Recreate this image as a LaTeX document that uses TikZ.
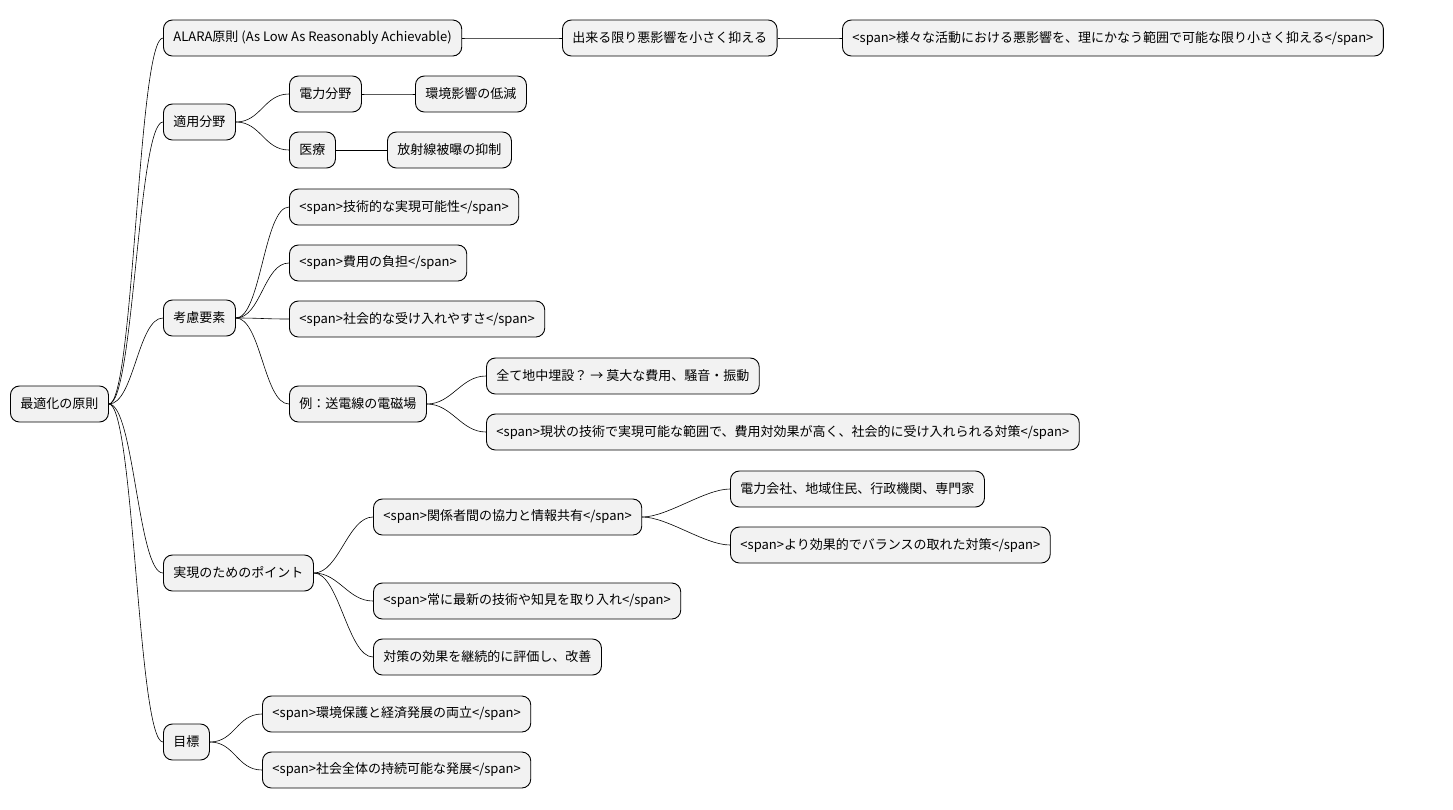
\documentclass[tikz,border=0pt]{standalone}
\usepackage{fontspec}
\setmainfont{Noto Sans CJK JP}
\begin{document}
\begin{tikzpicture}[x=1pt,y=-1pt,
  box/.style={draw,fill=gray!10,rounded corners=9pt,minimum height=36pt,inner xsep=10pt,anchor=west,font=\fontsize{13}{15}\selectfont,line width=0.9pt},
  link/.style={line width=0.6pt}]
\useasboundingbox (0,0) rectangle (1453,809);
\node[box] (r) at (10,404) {最適化の原則};
\node[box] (a) at (163,38) {ALARA原則 (As Low As Reasonably Achievable)};
\node[box] (a1) at (562,38) {出来る限り悪影響を小さく抑える};
\node[box] (a2) at (842,38) {<span>様々な活動における悪影響を、理にかなう範囲で可能な限り小さく抑える</span>};
\node[box] (b) at (163,122) {適用分野};
\node[box] (b1) at (289,94) {電力分野};
\node[box] (b11) at (415,94) {環境影響の低減};
\node[box] (b2) at (289,150) {医療};
\node[box] (b21) at (387,150) {放射線被曝の抑制};
\node[box] (c) at (163,318) {考慮要素};
\node[box] (c1) at (289,207) {<span>技術的な実現可能性</span>};
\node[box] (c2) at (289,263) {<span>費用の負担</span>};
\node[box] (c3) at (289,319) {<span>社会的な受け入れやすさ</span>};
\node[box] (c4) at (289,404) {例：送電線の電磁場};
\node[box] (c41) at (486,376) {全て地中埋設？ → 莫大な費用、騒音・振動};
\node[box] (c42) at (486,432) {<span>現状の技術で実現可能な範囲で、費用対効果が高く、社会的に受け入れられる対策</span>};
\node[box] (d) at (163,573) {実現のためのポイント};
\node[box] (d1) at (373,517) {<span>関係者間の協力と情報共有</span>};
\node[box] (d11) at (730,489) {電力会社、地域住民、行政機関、専門家};
\node[box] (d12) at (730,545) {<span>より効果的でバランスの取れた対策</span>};
\node[box] (d2) at (373,601) {<span>常に最新の技術や知見を取り入れ</span>};
\node[box] (d3) at (373,657) {対策の効果を継続的に評価し、改善};
\node[box] (e) at (163,742) {目標};
\node[box] (e1) at (262,714) {<span>環境保護と経済発展の両立</span>};
\node[box] (e2) at (262,770) {<span>社会全体の持続可能な発展</span>};
\foreach \p/\c in {r/a,r/b,r/c,r/d,r/e,a/a1,a1/a2,b/b1,b/b2,b1/b11,b2/b21,c/c1,c/c2,c/c3,c/c4,c4/c41,c4/c42,d/d1,d/d2,d/d3,d1/d11,d1/d12,e/e1,e/e2}
  \draw[link] (\p.east) .. controls +(25,0) and +(-25,0) .. (\c.west);
\end{tikzpicture}
\end{document}
